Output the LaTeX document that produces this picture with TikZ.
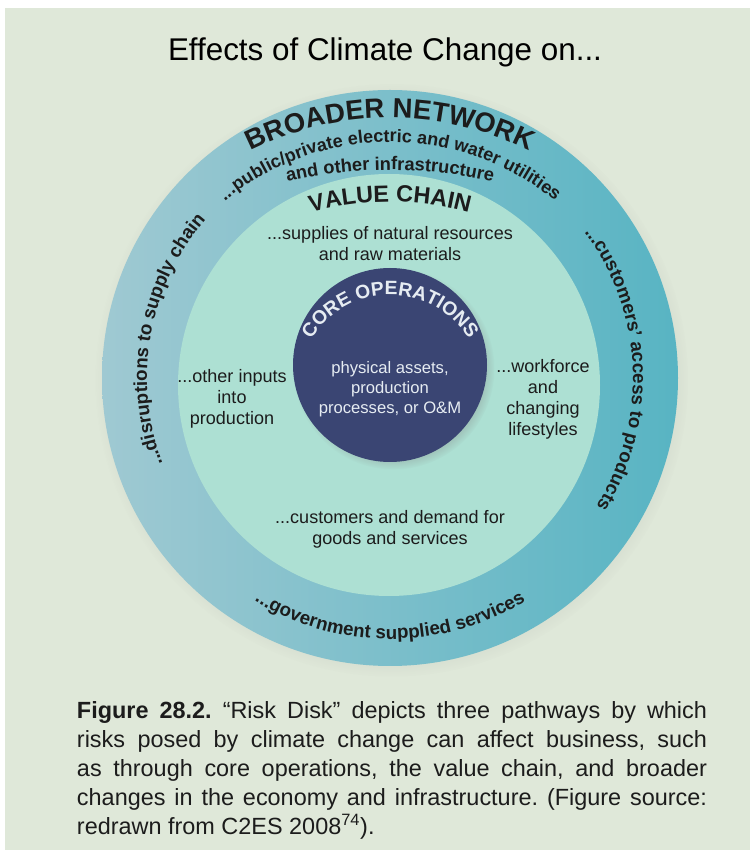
\documentclass[tikz,border=0pt]{standalone}
\usepackage{fontspec}
\setmainfont{Liberation Sans}
\usetikzlibrary{decorations.text, shadows}
\definecolor{bgc}{HTML}{DFE8D9}
\definecolor{ringl}{HTML}{9FC9D2}
\definecolor{ringr}{HTML}{58B4C3}
\definecolor{chainc}{HTML}{ADE0D3}
\definecolor{corec}{HTML}{3A4573}
\definecolor{inkc}{HTML}{1C1C1C}
\definecolor{corek}{HTML}{E6ECF2}
\frenchspacing

\begin{document}
\begin{tikzpicture}[x=0.03cm, y=0.03cm,
      lbl/.style={align=center, text=inkc, inner sep=0pt,
                  font=\fontsize{15.4}{18}\selectfont},
      curved/.style={decorate, decoration={text along path, text align=center,
                  text color=inkc, text={#1}}},
      captxt/.style={align=justify, text width=18.9cm, inner sep=0pt, text=inkc,
                  font=\fontsize{20}{24.8}\selectfont}]
    \fill[white] (0,0) rectangle (750,855);
    \fill[bgc] (5,5) rectangle (750,847);
    \coordinate (o) at (390,477);
    \coordinate (m) at (389,470);
    \coordinate (c) at (390,490);
    \node[font=\fontsize{26.8}{30}\selectfont] (title) at (385,803)
      {Effects of Climate Change on...};
    \shade[left color=ringl, right color=ringr,
      circular drop shadow={shadow scale=1.03, opacity=0.25}] (o) circle[radius=288];
    \fill[chainc] (m) circle[radius=211];
    \fill[corec, circular drop shadow={shadow xshift=3pt, shadow yshift=-3pt,
      shadow scale=1.04, opacity=0.45}] (c) circle[radius=97];
    % broader network ring
    \path[curved={|\bfseries\fontsize{23.5}{24}\selectfont|BROADER NETWORK}]
      (390,425) ++(125:312) arc[start angle=125, end angle=55, radius=312];
    \path[curved={|\bfseries\fontsize{15.4}{16}\selectfont|...public/private electric and water utilities}]
      (390,453) ++(140:260) arc[start angle=140, end angle=40, radius=260];
    \path[curved={|\bfseries\fontsize{15.6}{16}\selectfont|and other infrastructure}]
      (390,233) ++(110:452) arc[start angle=110, end angle=70, radius=452];
    \path[curved={|\bfseries\fontsize{16}{16}\selectfont|...disruptions to supply chain}]
      (o) ++(205:243) arc[start angle=205, end angle=135, radius=243];
    \path[curved={|\bfseries\fontsize{16}{16}\selectfont|...customers' access to products}]
      (o) ++(40:243) arc[start angle=40, end angle=-35, radius=243];
    \path[curved={|\bfseries\fontsize{16}{16}\selectfont|...government supplied services}]
      (o) ++(230:261) arc[start angle=230, end angle=310, radius=261];
    % value chain
    \path[curved={|\bfseries\fontsize{20}{20}\selectfont|VALUE CHAIN}]
      (390,353) ++(110:300) arc[start angle=110, end angle=70, radius=300];
    \node[lbl] (sup) at (390,611) {...supplies of natural resources\\and raw materials};
    \node[lbl] (inp) at (232,456) {...other inputs\\into\\production};
    \node[lbl] (wrk) at (543,456) {...workforce\\and\\changing\\lifestyles};
    \node[lbl] (dem) at (390,326) {...customers and demand for\\goods and services};
    % core operations
    \path[curved={|\color{corek}\bfseries\fontsize{16.5}{17}\selectfont|CORE OPERATIONS}]
      (390,468) ++(162:92) arc[start angle=162, end angle=18, radius=92];
    \node[lbl, text=corek, font=\fontsize{14.2}{17}\selectfont] (ops) at (390,466)
      {physical assets,\\production\\processes, or O\&M};
    \node[captxt, anchor=north] (caption) at (392,154)
      {\textbf{Figure 28.2.} “Risk Disk” depicts three pathways by which\linebreak
      risks posed by climate change can affect business, such\linebreak
      as through core operations, the value chain, and broader\linebreak
      changes in the economy and infrastructure. (Figure source:\linebreak
      redrawn from C2ES 2008\textsuperscript{74}).};
  \end{tikzpicture}
\end{document}
